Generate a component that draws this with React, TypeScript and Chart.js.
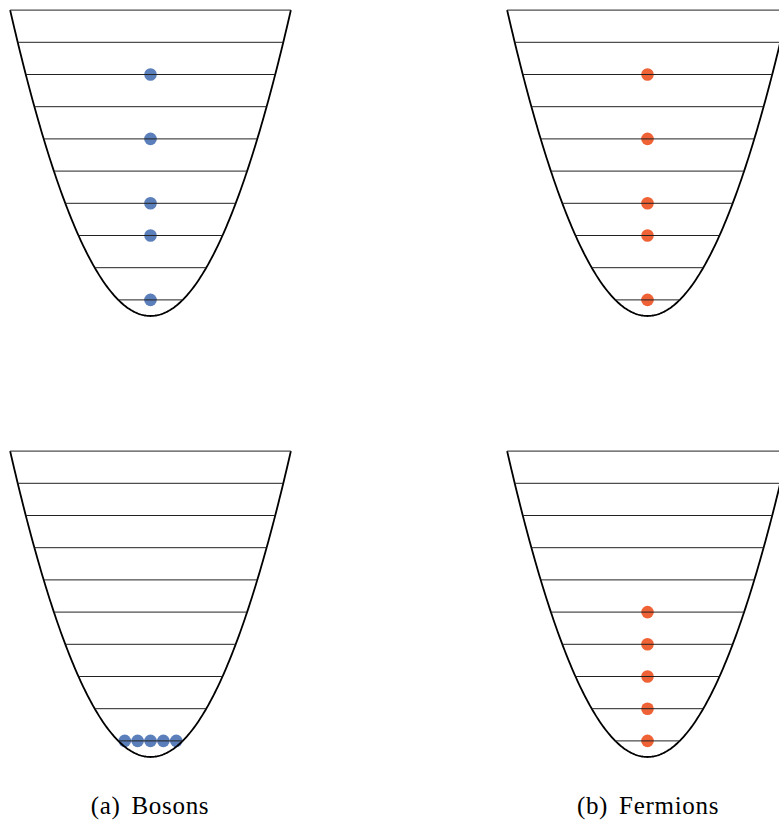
import React, { useEffect, useRef } from "react";
import { Chart, registerables } from "chart.js";

Chart.register(...registerables);

// Energy levels of the harmonic trap (units of hbar*omega), n = 0..9
const LEVEL_ENERGIES = [0.5, 1.5, 2.5, 3.5, 4.5, 5.5, 6.5, 7.5, 8.5, 9.5];

// Occupied level index and horizontal offset for each particle
const BOSONS_TOP_LEVELS = [0, 2, 3, 5, 7];
const BOSONS_TOP_X = [0, 0, 0, 0, 0];
const FERMIONS_TOP_LEVELS = [0, 2, 3, 5, 7];
const FERMIONS_TOP_X = [0, 0, 0, 0, 0];
const BOSONS_BOTTOM_LEVELS = [0, 0, 0, 0, 0];
const BOSONS_BOTTOM_X = [-0.8, -0.4, 0, 0.4, 0.8];
const FERMIONS_BOTTOM_LEVELS = [0, 1, 2, 3, 4];
const FERMIONS_BOTTOM_X = [0, 0, 0, 0, 0];

const CAPTIONS = ["(a) Bosons", "(b) Fermions"];

const BLUE = "#5a7fba";
const ORANGE = "#ef6236";

const K = 32.2; // px per unit

type PanelProps = {
  left: number;
  top: number;
  width: number;
  height: number;
  cx: number; // vertex px within canvas
  cy: number;
  levels: number[];
  xs: number[];
  color: string;
};

function Panel(p: PanelProps) {
  const ref = useRef<HTMLCanvasElement>(null);
  useEffect(() => {
    if (!ref.current) return;
    const Emax = LEVEL_ENERGIES[LEVEL_ENERGIES.length - 1];
    const xEdge = Math.sqrt(2 * Emax);
    const parab: { x: number; y: number }[] = [];
    const N = 200;
    for (let i = 0; i <= N; i++) {
      const x = -xEdge + (2 * xEdge * i) / N;
      parab.push({ x, y: (x * x) / 2 });
    }
    const levelSets = LEVEL_ENERGIES.map((E) => {
      const h = Math.sqrt(2 * E);
      return {
        data: [
          { x: -h, y: E },
          { x: h, y: E },
        ],
        showLine: true,
        borderColor: "#222222",
        borderWidth: 1,
        pointRadius: 0,
        clip: false as any,
      };
    });
    const dots = p.levels.map((n, i) => ({ x: p.xs[i], y: LEVEL_ENERGIES[n] }));
    const chart = new Chart(ref.current, {
      type: "scatter",
      data: {
        datasets: [
          ...levelSets,
          {
            data: parab,
            showLine: true,
            borderColor: "#000000",
            borderWidth: 1.8,
            pointRadius: 0,
            clip: false as any,
          },
          {
            data: dots,
            pointRadius: 6.3,
            pointBorderWidth: 0,
            pointBackgroundColor: p.color,
            backgroundColor: p.color,
            borderColor: p.color,
            clip: false as any,
          },
        ] as any,
      },
      options: {
        animation: false,
        responsive: false,
        maintainAspectRatio: false,
        layout: { padding: 0, autoPadding: false } as any,
        plugins: { legend: { display: false }, tooltip: { enabled: false } },
        scales: {
          x: {
            type: "linear",
            display: false,
            min: -p.cx / K,
            max: (p.width - p.cx) / K,
          },
          y: {
            type: "linear",
            display: false,
            min: (p.cy - p.height) / K,
            max: p.cy / K,
          },
        },
      },
    });
    return () => chart.destroy();
  }, []);
  return (
    <canvas
      ref={ref}
      width={p.width}
      height={p.height}
      style={{ position: "absolute", left: p.left, top: p.top, width: p.width, height: p.height }}
    />
  );
}

export default function App() {
  const captionStyle: React.CSSProperties = {
    position: "absolute",
    top: 790,
    width: 300,
    textAlign: "center",
    fontFamily: "'Liberation Serif', serif",
    fontSize: 25,
    letterSpacing: 0.7,
    wordSpacing: 4,
    lineHeight: "32px",
    color: "#000",
  };
  return (
    <div
      style={{
        position: "absolute",
        left: 0,
        top: 0,
        width: 779,
        height: 823,
        overflow: "hidden",
        background: "#fff",
      }}
    >
      <Panel left={0} top={0} width={320} height={335} cx={150.5} cy={316} levels={BOSONS_TOP_LEVELS} xs={BOSONS_TOP_X} color={BLUE} />
      <Panel left={460} top={0} width={340} height={335} cx={187.5} cy={316} levels={FERMIONS_TOP_LEVELS} xs={FERMIONS_TOP_X} color={ORANGE} />
      <Panel left={0} top={441} width={320} height={335} cx={150.5} cy={316} levels={BOSONS_BOTTOM_LEVELS} xs={BOSONS_BOTTOM_X} color={BLUE} />
      <Panel left={460} top={441} width={340} height={335} cx={187.5} cy={316} levels={FERMIONS_BOTTOM_LEVELS} xs={FERMIONS_BOTTOM_X} color={ORANGE} />
      <div style={{ ...captionStyle, left: 0 }}>{CAPTIONS[0]}</div>
      <div style={{ ...captionStyle, left: 498 }}>{CAPTIONS[1]}</div>
    </div>
  );
}
